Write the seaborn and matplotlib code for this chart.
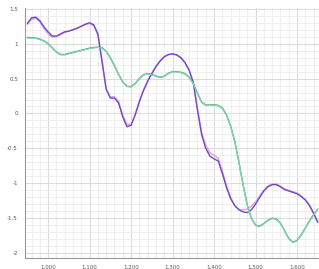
import numpy as np
import pandas as pd
import seaborn as sns
from matplotlib import pyplot as plt
from matplotlib.ticker import MultipleLocator, FuncFormatter

# wavenumber positions shared by all series
wavenumber = list(range(950, 1651, 10))

purple = [1.29, 1.37, 1.38, 1.33, 1.24, 1.17, 1.11, 1.11, 1.14, 1.17,
          1.18, 1.20, 1.22, 1.25, 1.28, 1.30, 1.27, 1.14, 0.75, 0.35,
          0.22, 0.22, 0.15, -0.05, -0.19, -0.17, -0.02, 0.17, 0.33, 0.46,
          0.57, 0.67, 0.75, 0.81, 0.845, 0.855, 0.84, 0.80, 0.73, 0.62,
          0.44, 0.05, -0.30, -0.50, -0.61, -0.65, -0.68, -0.86, -1.06, -1.22,
          -1.32, -1.38, -1.41, -1.42, -1.38, -1.30, -1.20, -1.11, -1.05, -1.02,
          -1.02, -1.05, -1.09, -1.11, -1.13, -1.15, -1.19, -1.24, -1.32, -1.43,
          -1.56]

lavender = [1.27, 1.35, 1.36, 1.31, 1.22, 1.14, 1.09, 1.10, 1.13, 1.16,
            1.18, 1.20, 1.22, 1.25, 1.27, 1.29, 1.26, 1.12, 0.73, 0.34,
            0.24, 0.24, 0.17, -0.02, -0.16, -0.15, -0.01, 0.18, 0.34, 0.47,
            0.58, 0.68, 0.76, 0.815, 0.84, 0.85, 0.835, 0.795, 0.725, 0.615,
            0.45, 0.07, -0.27, -0.46, -0.56, -0.60, -0.64, -0.82, -1.03, -1.20,
            -1.32, -1.38, -1.38, -1.37, -1.33, -1.27, -1.18, -1.10, -1.04, -1.01,
            -1.01, -1.04, -1.08, -1.10, -1.12, -1.14, -1.18, -1.23, -1.31, -1.42,
            -1.55]

green = [1.09, 1.085, 1.08, 1.065, 1.04, 1.00, 0.94, 0.88, 0.845, 0.845,
         0.86, 0.875, 0.89, 0.905, 0.92, 0.935, 0.945, 0.95, 0.94, 0.89,
         0.80, 0.68, 0.56, 0.45, 0.39, 0.385, 0.43, 0.50, 0.555, 0.57,
         0.56, 0.535, 0.52, 0.535, 0.575, 0.60, 0.60, 0.59, 0.57, 0.52,
         0.43, 0.29, 0.165, 0.12, 0.12, 0.125, 0.115, 0.08, -0.02, -0.18,
         -0.40, -0.70, -1.02, -1.31, -1.50, -1.60, -1.615, -1.575, -1.53, -1.50,
         -1.51, -1.57, -1.68, -1.79, -1.845, -1.82, -1.74, -1.64, -1.54, -1.45,
         -1.37]

teal = [1.08, 1.08, 1.075, 1.06, 1.035, 0.995, 0.935, 0.875, 0.84, 0.84,
        0.855, 0.87, 0.885, 0.90, 0.915, 0.93, 0.94, 0.945, 0.935, 0.885,
        0.795, 0.675, 0.555, 0.445, 0.385, 0.38, 0.425, 0.495, 0.55, 0.565,
        0.555, 0.53, 0.515, 0.53, 0.57, 0.595, 0.595, 0.585, 0.565, 0.515,
        0.425, 0.285, 0.16, 0.115, 0.115, 0.12, 0.11, 0.075, -0.025, -0.185,
        -0.405, -0.705, -1.025, -1.315, -1.505, -1.605, -1.62, -1.58, -1.535, -1.505,
        -1.515, -1.575, -1.685, -1.795, -1.85, -1.825, -1.745, -1.645, -1.545, -1.455,
        -1.375]

series = {"purple": purple, "lavender": lavender, "green": green, "teal": teal}
colors = {"purple": "#7648c0", "lavender": "#d9a3e6", "green": "#4f9e5a", "teal": "#7fd6b8"}
widths = {"purple": 1.0, "lavender": 1.0, "green": 1.0, "teal": 0.9}

df = pd.concat(
    [pd.DataFrame({"x": wavenumber, "y": v, "s": k}) for k, v in series.items()],
    ignore_index=True)

sns.set_style("white")
fig = plt.figure(figsize=(3.19, 2.69), dpi=100)
ax = fig.add_axes([0.078, 0.041, 0.922, 0.929])

for name in ["lavender", "purple", "green", "teal"]:
    sns.lineplot(data=df[df["s"] == name], x="x", y="y", color=colors[name],
                 linewidth=widths[name], ax=ax, legend=False)

ax.set_xlim(944, 1653)
ax.set_ylim(-2.07, 1.51)
ax.xaxis.set_major_locator(MultipleLocator(100))
ax.xaxis.set_minor_locator(MultipleLocator(20))
ax.yaxis.set_major_locator(MultipleLocator(0.5))
ax.yaxis.set_minor_locator(MultipleLocator(0.1))
ax.xaxis.set_major_formatter(FuncFormatter(lambda v, p: f"{int(v):,}"))
ax.yaxis.set_major_formatter(FuncFormatter(lambda v, p: f"{v:g}"))

ax.grid(which="major", color="#dcdcdc", linewidth=0.8)
ax.grid(which="minor", color="#ececec", linewidth=0.6)
ax.set_axisbelow(True)

for side in ["top", "right"]:
    ax.spines[side].set_visible(False)
for side in ["left", "bottom"]:
    ax.spines[side].set_color("#9a9a9a")
    ax.spines[side].set_linewidth(0.8)

ax.tick_params(which="both", direction="out", colors="#888888", labelcolor="#555555",
               labelsize=4, width=0.6)
ax.tick_params(which="major", length=3, pad=2)
ax.tick_params(which="minor", length=1.5)
ax.set_xlabel("")
ax.set_ylabel("")

plt.savefig("out.png", dpi=100)
plt.close()
